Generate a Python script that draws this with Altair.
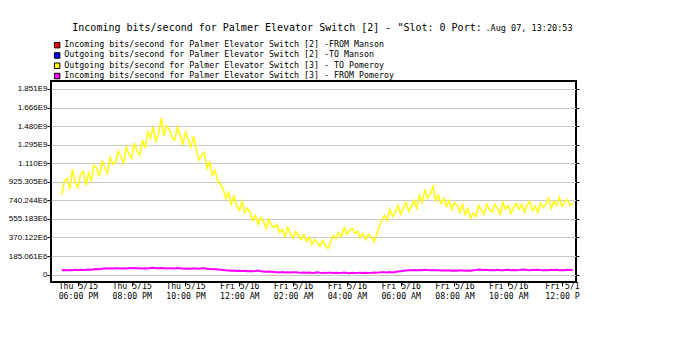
import json
import altair as alt
import pandas as pd

# ---------------- data ----------------
title_main = 'Incoming bits/second for Palmer Elevator Switch [2] - "Slot: 0 Port: '
title_date = ".Aug 07, 13:20:53"

series_names = [
    "Incoming bits/second for Palmer Elevator Switch [2] -FROM Manson",
    "Outgoing bits/second for Palmer Elevator Switch [2] -TO Manson",
    "Outgoing bits/second for Palmer Elevator Switch [3] - TO Pomeroy",
    "Incoming bits/second for Palmer Elevator Switch [3] - FROM Pomeroy",
]
series_colors = ["#ff0000", "#0000ff", "#ffff00", "#ff00ff"]

y_tick_labels = ["0", "185.061E6", "370.122E6", "555.183E6", "740.244E6",
                 "925.305E6", "1.110E9", "1.295E9", "1.480E9", "1.666E9", "1.851E9"]
y_step = 185.061  # millions

# hours after Thu 5/15 05:00 PM
x_tick_hours = [1, 3, 5, 7, 9, 11, 13, 15, 17, 19]
x_tick_day = ["Thu 5/15", "Thu 5/15", "Thu 5/15", "Fri 5/16", "Fri 5/16",
              "Fri 5/16", "Fri 5/16", "Fri 5/16", "Fri 5/16", "Fri 5/1"]
x_tick_time = ["06:00 PM", "08:00 PM", "10:00 PM", "12:00 AM", "02:00 AM",
               "04:00 AM", "06:00 AM", "08:00 AM", "10:00 AM", "12:00 P"]

# samples every 6 minutes, first at 0.4 h
sample_start = 0.4
sample_step = 0.1

# Outgoing [3] - TO Pomeroy, in millions of bits/s
to_pomeroy = [
    800, 930, 960, 850, 1050, 910, 870, 1000, 1030, 890,
    1010, 940, 1090, 1060, 980, 1130, 1070, 1010, 1170, 1100,
    1120, 1230, 1180, 1110, 1270, 1200, 1160, 1310, 1230, 1190,
    1340, 1260, 1420, 1360, 1470, 1330, 1400, 1560, 1380, 1480,
    1450, 1370, 1340, 1470, 1390, 1300, 1420, 1350, 1270, 1380,
    1250, 1140, 1190, 1220, 1060, 1120, 990, 1040, 930, 900,
    850, 760, 820, 700, 780, 690, 640, 730, 620, 660,
    620, 540, 590, 500, 570, 530, 460, 550, 490, 470,
    500, 420, 450, 380, 470, 410, 360, 430, 390, 350,
    400, 330, 370, 300, 350, 320, 280, 340, 290, 260,
    330, 390, 360, 420, 380, 470, 400, 440, 460, 410,
    430, 370, 410, 350, 400, 380, 330, 390, 480, 540,
    590, 540, 650, 580, 620, 690, 600, 660, 720, 630,
    680, 740, 660, 790, 720, 850, 760, 800, 880, 740,
    790, 710, 760, 680, 740, 650, 720, 690, 620, 700,
    600, 660, 560, 610, 580, 690, 640, 600, 700, 650,
    620, 700, 660, 600, 720, 650, 690, 610, 670, 710,
    650, 700, 620, 690, 730, 640, 680, 620, 710, 670,
    700, 760, 660, 730, 690, 770, 680, 720, 750, 690,
    710,
]

# Incoming [3] - FROM Pomeroy, in millions of bits/s
from_pomeroy = [
    43, 45, 42, 46, 44, 47, 45, 48, 46, 47,
    50, 48, 52, 55, 53, 58, 62, 60, 63, 61,
    64, 62, 60, 63, 61, 65, 63, 66, 64, 62,
    60, 63, 61, 65, 68, 64, 62, 66, 63, 60,
    62, 64, 61, 66, 63, 60, 58, 61, 59, 62,
    60, 57, 62, 64, 58, 55, 52, 56, 50, 48,
    45, 42, 40, 38, 41, 36, 39, 35, 38, 34,
    36, 33, 35, 40, 32, 30, 28, 31, 27, 25,
    24, 22, 25, 21, 23, 20, 22, 24, 21, 19,
    20, 18, 21, 17, 19, 22, 18, 16, 19, 17,
    18, 16, 19, 15, 17, 20, 16, 14, 17, 15,
    17, 19, 16, 18, 15, 17, 20, 18, 22, 24,
    23, 21, 25, 22, 26, 30, 34, 38, 41, 43,
    42, 45, 43, 46, 44, 48, 45, 43, 46, 44,
    43, 41, 44, 40, 42, 38, 41, 39, 42, 40,
    38, 41, 39, 43, 46, 50, 47, 45, 48, 44,
    46, 43, 47, 44, 42, 45, 48, 44, 46, 43,
    45, 48, 50, 46, 44, 47, 45, 49, 46, 44,
    46, 43, 47, 45, 48, 44, 46, 43, 47, 45,
    46,
]

# ---------------- tables ----------------
hours = [round(sample_start + sample_step * i, 2) for i in range(len(to_pomeroy))]
df_yellow = pd.DataFrame({"hour": hours, "value": to_pomeroy})
df_magenta = pd.DataFrame({"hour": hours, "value": from_pomeroy})
df_legend = pd.DataFrame({"series": series_names})
df_title = pd.DataFrame({"text": [title_main]})
df_date = pd.DataFrame({"text": [title_date]})

FONT = "DejaVu Sans Mono"
YFONT = "Liberation Sans"
Y_DOMAIN = [-74, 1930]
X_DOMAIN = [0, 19.52]

y_ticks = [round(y_step * k, 3) for k in range(len(y_tick_labels))]
y_label_expr = json.dumps(y_tick_labels) + f"[round(datum.value / {y_step})]"
x_label_expr = json.dumps([[d, t] for d, t in zip(x_tick_day, x_tick_time)]) + "[round((datum.value - 1) / 2)]"

x_enc = alt.X("hour:Q",
              scale=alt.Scale(domain=X_DOMAIN, nice=False, zero=False),
              axis=alt.Axis(values=x_tick_hours, labelExpr=x_label_expr, title=None,
                            grid=False, domain=False, tickColor="black", tickSize=4,
                            labelPadding=-4, labelFont=FONT, labelFontSize=8.2,
                            labelColor="black", labelLineHeight=10, labelBaseline="top",
                            labelFlush=False, labelOverlap=False))

y_scale = alt.Scale(domain=Y_DOMAIN, nice=False, zero=False)

yellow = alt.Chart(df_yellow).mark_line(strokeWidth=1.5, clip=True).encode(
    x=x_enc,
    y=alt.Y("value:Q", scale=y_scale,
            axis=alt.Axis(values=y_ticks, labelExpr=y_label_expr, title=None,
                          grid=True, gridColor="#c8c8c8", gridWidth=1, domain=False,
                          tickColor="black", tickSize=4, labelPadding=0,
                          labelFont=YFONT, labelFontSize=8, labelColor="black",
                          labelOverlap=False, labelFlush=False)),
    stroke=alt.value(series_colors[2]),
)

magenta = alt.Chart(df_magenta).mark_line(strokeWidth=2, clip=True).encode(
    x=x_enc,
    y=alt.Y("value:Q", scale=y_scale,
            axis=alt.Axis(orient="right", values=y_ticks, labels=False, title=None,
                          grid=False, domain=False, tickColor="black", tickSize=3)),
    stroke=alt.value(series_colors[3]),
)

legend_layer = alt.Chart(df_legend).mark_square(size=30, opacity=1).encode(
    fill=alt.Fill("series:N", scale=alt.Scale(domain=series_names, range=series_colors),
                  legend=alt.Legend(orient="none", legendX=2, legendY=-40,
                                    title=None, symbolType="square", symbolSize=30,
                                    symbolOpacity=1,
                                    symbolStrokeColor="black", symbolStrokeWidth=1,
                                    labelFont=FONT, labelFontSize=8.3, labelColor="black",
                                    labelOffset=3, rowPadding=0.3, padding=0, labelLimit=500)),
).transform_filter("false")

title_layer = alt.Chart(df_title).mark_text(
    align="left", baseline="alphabetic", font=FONT, fontSize=10, color="black"
).encode(x=alt.value(21.3), y=alt.value(-50.5), text="text:N")

date_layer = alt.Chart(df_date).mark_text(
    align="left", baseline="alphabetic", font=FONT, fontSize=8.5, color="black"
).encode(x=alt.value(434.5), y=alt.value(-50.5), text="text:N")

chart = alt.layer(yellow, magenta, legend_layer, title_layer, date_layer).resolve_axis(
    y="independent"
).properties(
    width=525,
    height=201,
    autosize=alt.AutoSizeParams(type="none"),
    padding={"left": 43, "top": 73, "right": 100, "bottom": 60},
    background="white",
).configure_view(
    fill="#a8a8a8", stroke="black", strokeWidth=2
)

chart.save("out.html", embed_options={"renderer": "svg", "actions": False})
